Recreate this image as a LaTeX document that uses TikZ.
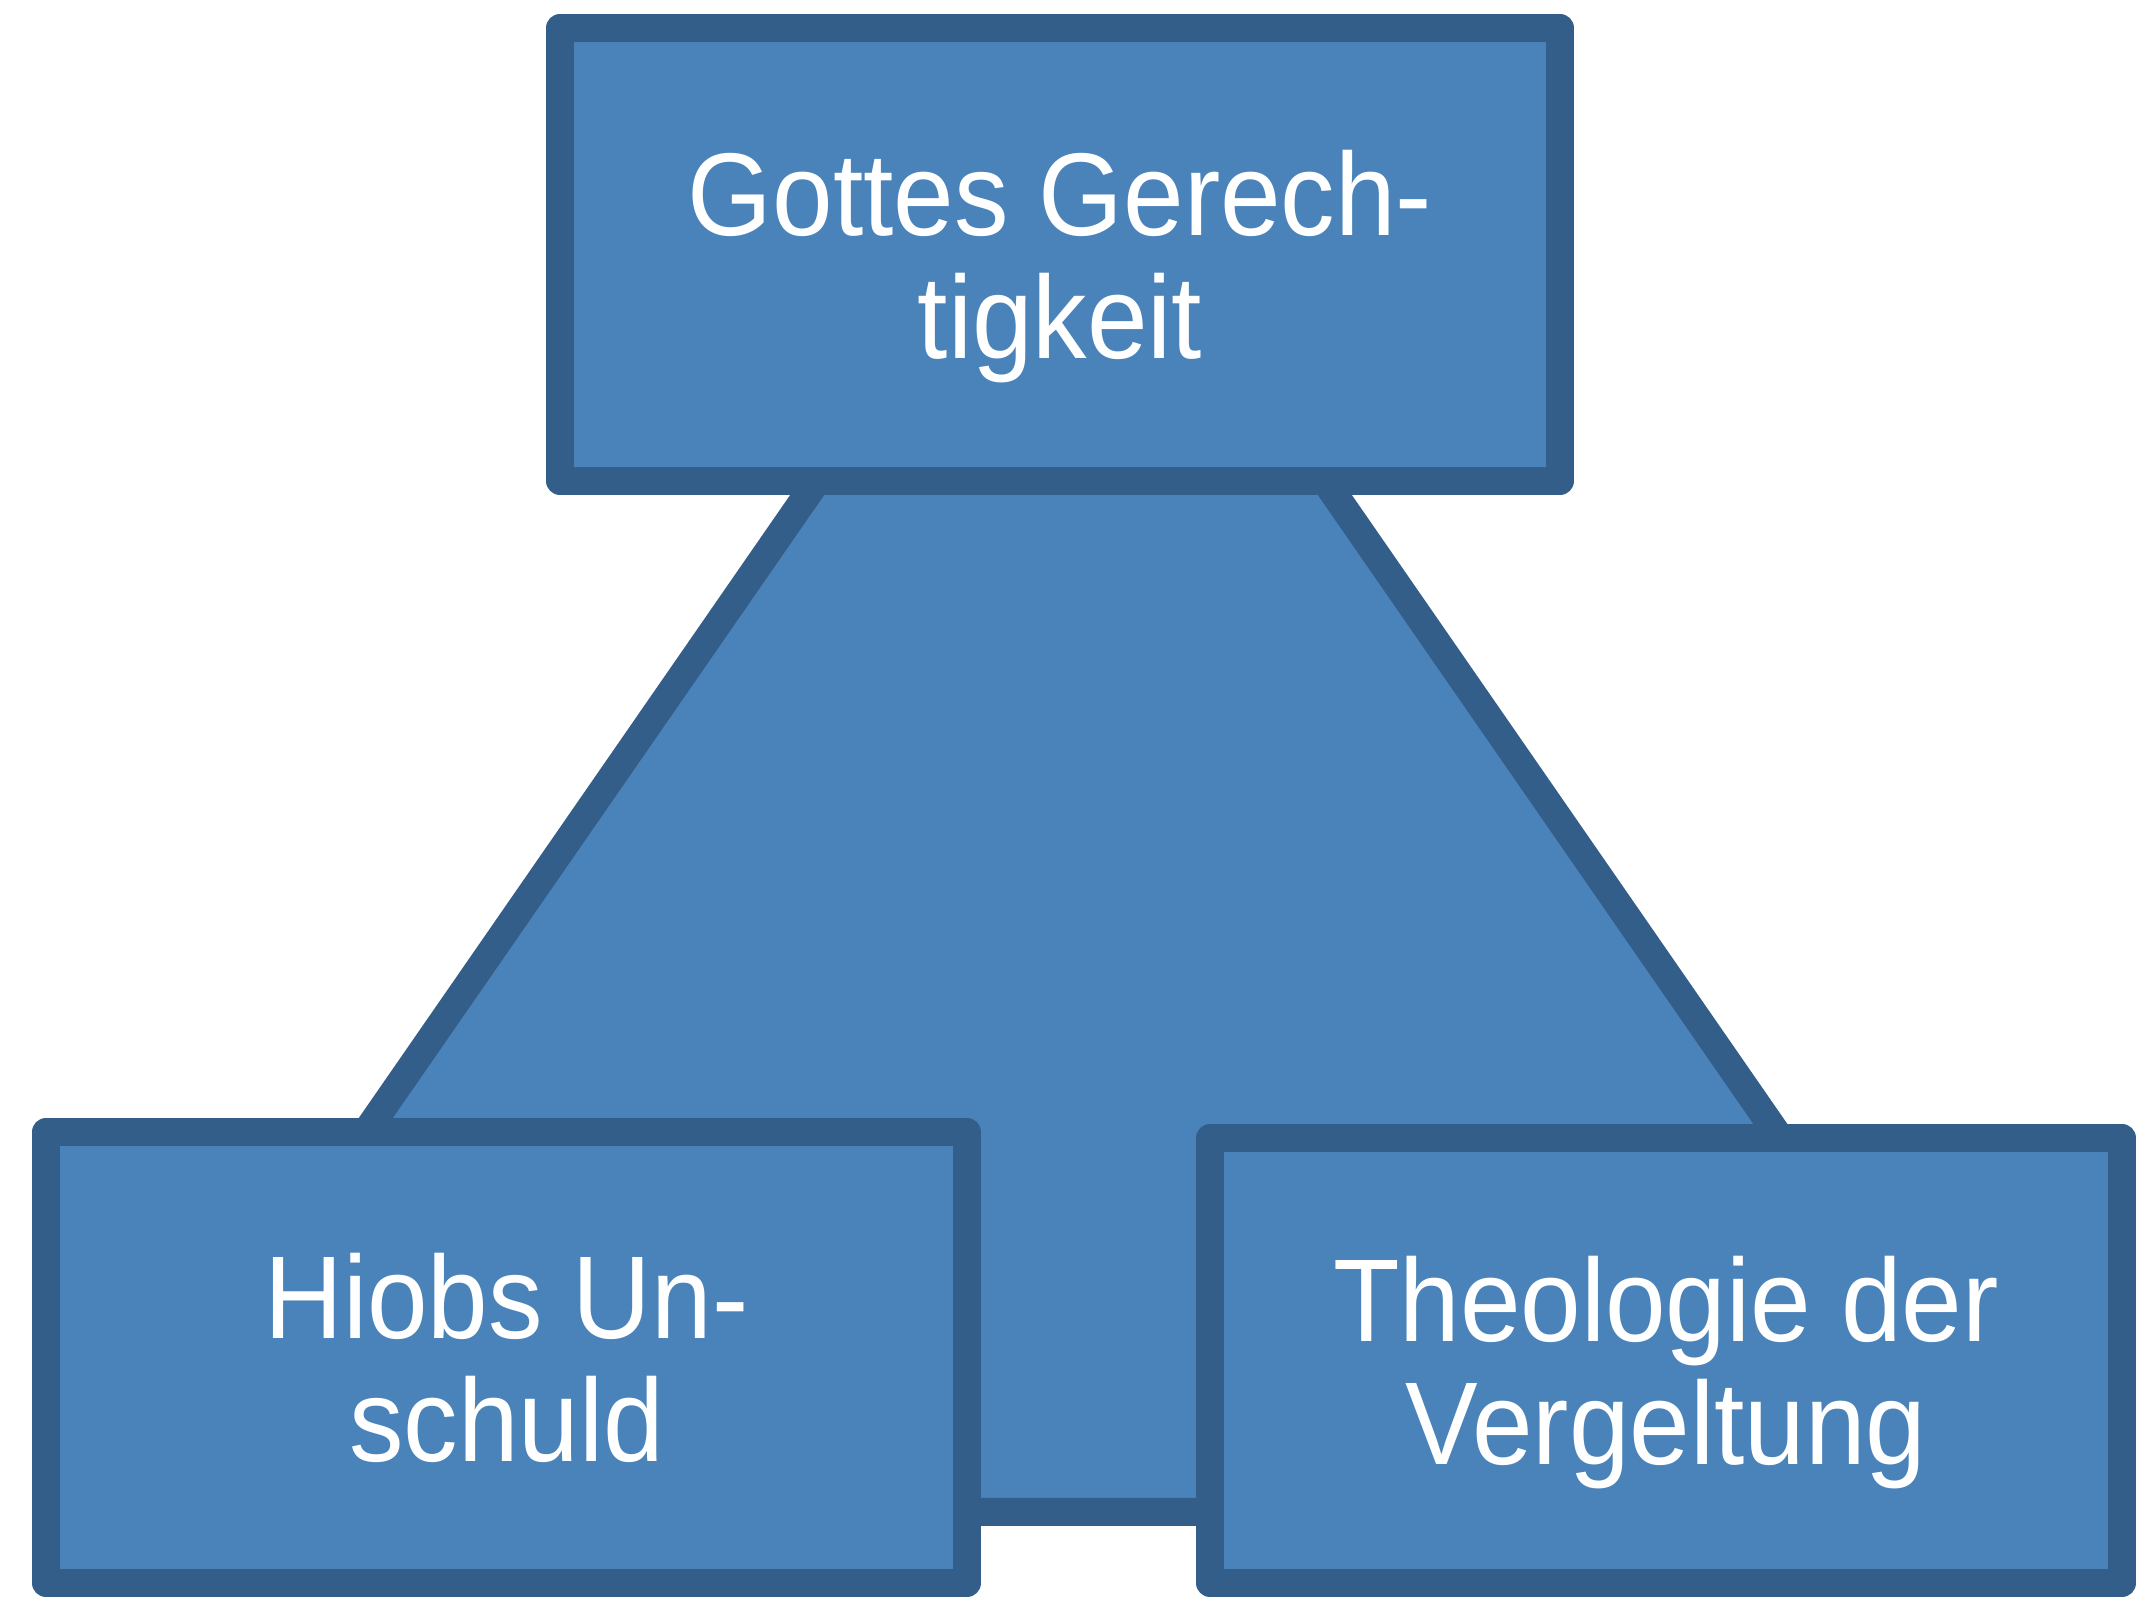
\documentclass[tikz,border=0pt]{standalone}
\usepackage{fontspec}
\setmainfont[FakeStretch=0.925]{Liberation Sans}
\usepackage{tikz}
\usetikzlibrary{positioning}
\definecolor{jobfill}{HTML}{4A83BA}
\definecolor{jobline}{HTML}{345E8A}

\begin{document}
\begin{tikzpicture}[
  frame/.style={draw=jobline, fill=jobfill, line width=0.28cm, line join=round},
  box/.style={frame, rectangle, inner sep=0pt, text=white, align=center,
    text depth=0pt, font=\fontsize{33.5}{35}\selectfont}
]
\useasboundingbox (0, 0) rectangle (21.54, 16.12);

% Triangle behind the boxes
\coordinate (apex) at (10.71, 14.98);
\coordinate (left) at (1.03, 1.00);
\coordinate (right) at (20.39, 1.00);
\draw[frame, line join=miter] (apex) -- (left) -- (right) -- cycle;

% Top
\node[box, minimum width=10.00cm, minimum height=4.53cm] (gott) at (10.60, 13.575) {Gottes Gerech-\\tigkeit};

% Bottom left
\node[box, minimum width=9.21cm, minimum height=4.51cm] (hiob) at (5.065, 2.545) {Hiobs Un-\\schuld};

% Bottom right
\node[box, minimum width=9.12cm, minimum height=4.45cm] (theo) at (16.66, 2.515) {Theologie der\\Vergeltung};

\end{tikzpicture}
\end{document}
